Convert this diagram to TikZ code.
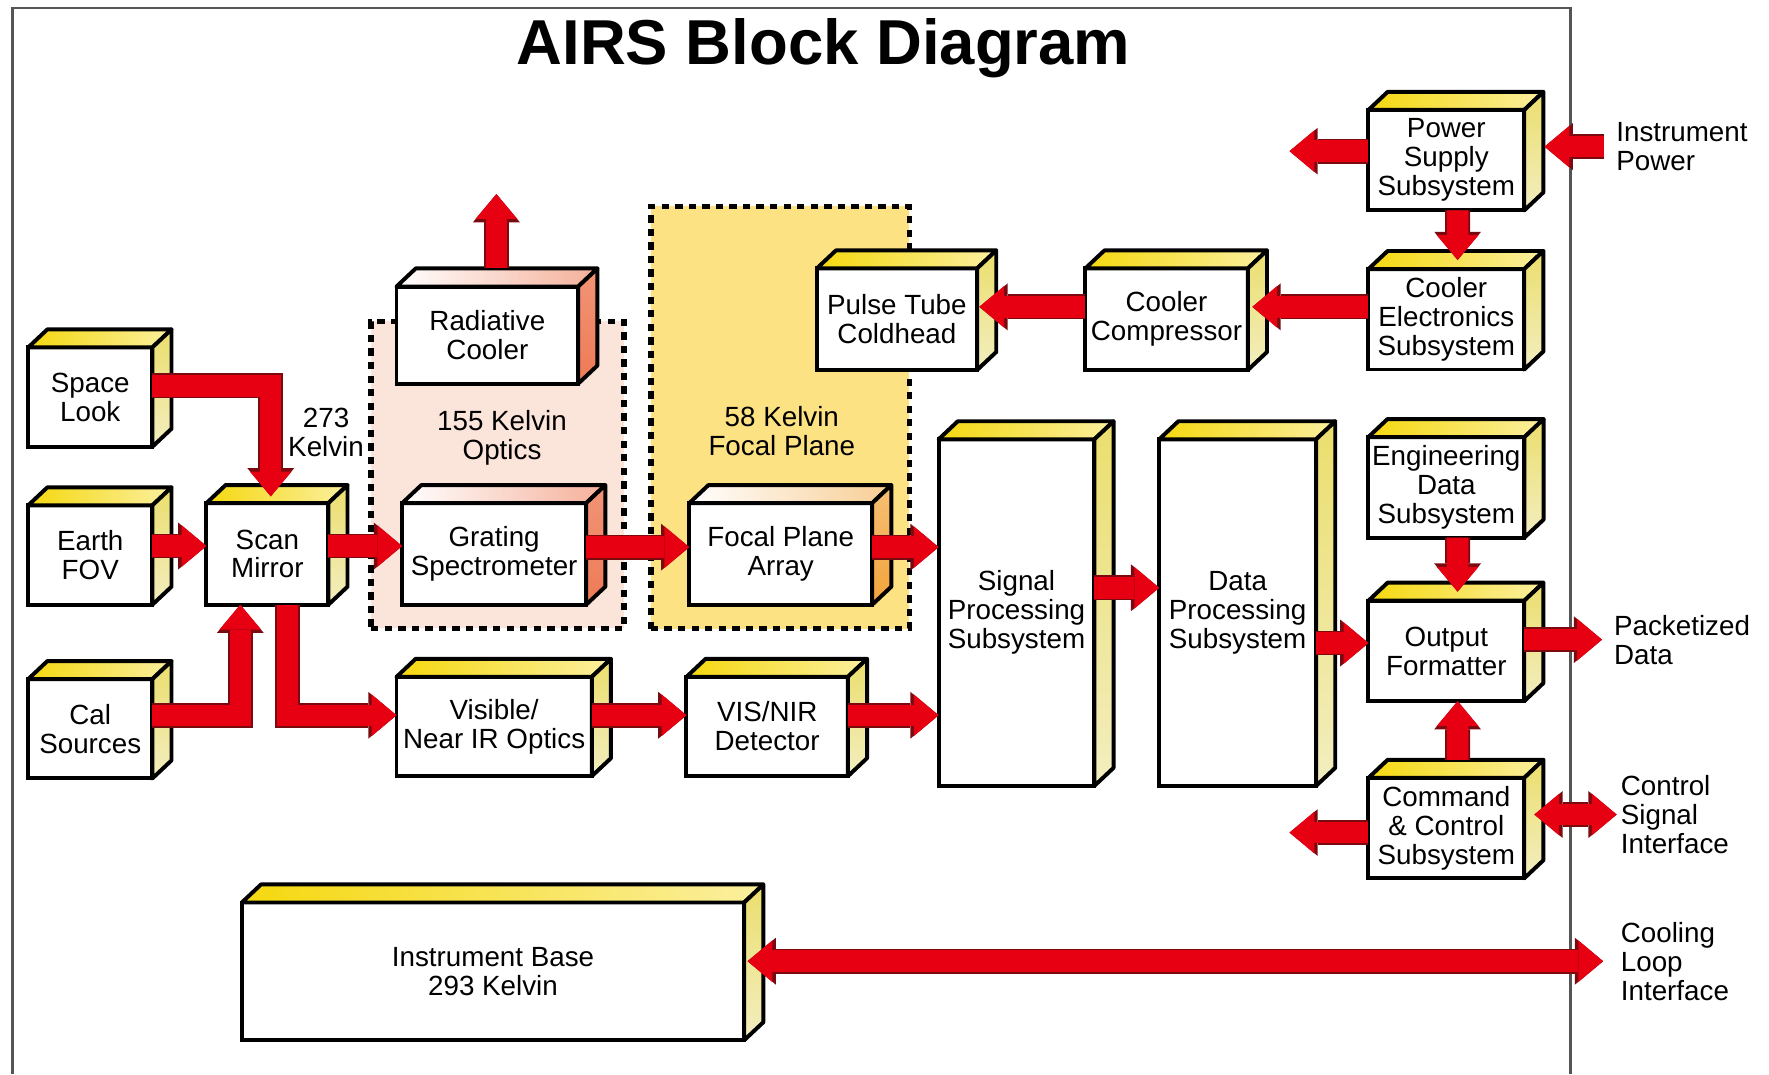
\documentclass[tikz,border=0pt]{standalone}
\usepackage{fontspec}
\setmainfont{Liberation Sans}
\usetikzlibrary{arrows.meta,calc,positioning}
\definecolor{airsred}{HTML}{E60012}
\definecolor{airsdark}{HTML}{7A0A10}
\definecolor{airstop}{HTML}{F5D80F}
\definecolor{airsside}{HTML}{E8E08C}
\definecolor{airsorange}{HTML}{EE7A55}
\definecolor{airsgold}{HTML}{F2A43A}
\definecolor{airspink}{HTML}{FBE4DA}
\definecolor{airszone}{HTML}{FDE283}
\definecolor{airsframe}{HTML}{555555}

\begin{document}
\begin{tikzpicture}[
    x=0.01cm, y=-0.01cm,
    % Estilos
    blk/.style={draw, fill=white, line width=0.035cm, inner sep=1pt, outer sep=0pt, align=center, font=\fontsize{7pt}{7.3pt}\selectfont},
    blkstd/.style={blk, minimum width=1.38cm, minimum height=0.89cm},
    zone/.style={line width=0.05cm, dash pattern=on 0.065cm off 0.055cm, outer sep=0pt, inner sep=0pt},
    topface/.style={draw, line width=0.035cm, line join=round, left color=airstop, right color=airstop!40!white},
    sideface/.style={draw, line width=0.035cm, line join=round, top color=airsside!75!airstop, bottom color=airsside!55!white},
    toporange/.style={draw, line width=0.035cm, line join=round, left color=white, right color=airsorange!60!white},
    sideorange/.style={draw, line width=0.035cm, line join=round, top color=airsorange!80!white, bottom color=airsorange},
    topgold/.style={draw, line width=0.035cm, line join=round, left color=white, right color=airsgold!55!white},
    sidegold/.style={draw, line width=0.035cm, line join=round, top color=airsgold!70!white, bottom color=airsgold},
    flow/.style={draw=airsred, line width=0.19cm, -{Triangle[length=0.22cm, width=0.37cm, line width=0pt]},
        preaction={draw=airsdark, line width=0.22cm, -{Triangle[length=0.25cm, width=0.415cm, line width=0pt]}}},
    flowboth/.style={draw=airsred, line width=0.19cm, {Triangle[length=0.22cm, width=0.37cm, line width=0pt]}-{Triangle[length=0.22cm, width=0.37cm, line width=0pt]},
        preaction={draw=airsdark, line width=0.22cm, {Triangle[length=0.25cm, width=0.415cm, line width=0pt]}-{Triangle[length=0.25cm, width=0.415cm, line width=0pt]}}},
    lbl/.style={font=\fontsize{7pt}{7.3pt}\selectfont, inner sep=0pt, align=center},
    outlbl/.style={lbl, align=left, anchor=west}
]
\useasboundingbox (0,0) rectangle (1568,952);

% --- MARCO Y TITULO ---
\draw[airsframe, line width=0.02cm] (11,952) -- (11,7) -- (1392,7) -- (1392,952);
\node[font=\fontsize{16pt}{18pt}\selectfont\bfseries] (title) at (730,43) {AIRS Block Diagram};

% --- ZONAS TERMICAS ---
\node[zone, draw, fill=airspink, minimum width=2.24cm, minimum height=2.72cm] (opticszone) at (441,421) {};
\node[zone, draw, fill=airszone, minimum width=2.29cm, minimum height=3.74cm] (fpzone) at (691.5,370) {};

% --- BLOQUES ---
\node[blk, minimum width=1.10cm, minimum height=0.88cm] (space) at (80,352) {Space\\Look};
\node[blk, minimum width=1.10cm, minimum height=0.88cm] (earth) at (80,492) {Earth\\FOV};
\node[blk, minimum width=1.10cm, minimum height=0.88cm] (cal)   at (80,646) {Cal\\Sources};
\node[blk, minimum width=1.08cm, minimum height=0.90cm] (scan)  at (237,491) {Scan\\Mirror};

\node[blk, minimum width=1.61cm, minimum height=0.86cm] (rc)      at (432,297) {Radiative\\Cooler};
\node[blk, minimum width=1.63cm, minimum height=0.90cm] (grating) at (438,491) {Grating\\Spectrometer};
\node[blk, minimum width=1.62cm, minimum height=0.90cm] (fpa)     at (692,491) {Focal Plane\\Array};
\node[blk, minimum width=1.73cm, minimum height=0.88cm] (vnir)    at (438,644) {Visible/\\Near IR Optics};
\node[blk, minimum width=1.43cm, minimum height=0.88cm] (det)     at (680,644) {VIS/NIR\\Detector};

\node[blk, minimum width=1.42cm, minimum height=0.90cm] (pulse) at (795,283) {Pulse Tube\\Coldhead};
\node[blk, minimum width=1.44cm, minimum height=0.90cm] (comp)  at (1034,283) {Cooler\\Compressor};

\node[blk, minimum width=1.38cm, minimum height=3.07cm] (sps) at (901,543) {Signal\\Processing\\Subsystem};
\node[blk, minimum width=1.39cm, minimum height=3.07cm] (dps) at (1097,543) {Data\\Processing\\Subsystem};

\node[blkstd] (pss) at (1282,142) {Power\\Supply\\Subsystem};
\node[blkstd] (ces) at (1282,283) {Cooler\\Electronics\\Subsystem};
\node[blkstd] (eds) at (1282,432) {Engineering\\Data\\Subsystem};
\node[blkstd] (of)  at (1282,577) {Output\\Formatter};
\node[blkstd] (ccs) at (1282,734) {Command\\\& Control\\Subsystem};

\node[blk, minimum width=4.45cm, minimum height=1.22cm] (base) at (437,861) {Instrument Base\\293 Kelvin};

% --- CARAS 3D ---
\foreach \n in {space,earth,cal,scan,vnir,det,pulse,comp,sps,dps,pss,ces,eds,of,ccs,base}{
  \draw[topface] (\n.north west) -- ([shift={(17,-16)}]\n.north west) -- ([shift={(17,-16)}]\n.north east) -- (\n.north east) -- cycle;
  \draw[sideface] (\n.north east) -- ([shift={(17,-16)}]\n.north east) -- ([shift={(17,-16)}]\n.south east) -- (\n.south east) -- cycle;
}
\foreach \n in {rc,grating}{
  \draw[toporange] (\n.north west) -- ([shift={(17,-16)}]\n.north west) -- ([shift={(17,-16)}]\n.north east) -- (\n.north east) -- cycle;
  \draw[sideorange] (\n.north east) -- ([shift={(17,-16)}]\n.north east) -- ([shift={(17,-16)}]\n.south east) -- (\n.south east) -- cycle;
}
\foreach \n in {fpa}{
  \draw[topgold] (\n.north west) -- ([shift={(17,-16)}]\n.north west) -- ([shift={(17,-16)}]\n.north east) -- (\n.north east) -- cycle;
  \draw[sidegold] (\n.north east) -- ([shift={(17,-16)}]\n.north east) -- ([shift={(17,-16)}]\n.south east) -- (\n.south east) -- cycle;
}

% --- EXTREMOS LIBRES ---
\coordinate (rcout)   at (440,172);
\coordinate (pssout)  at (1143,134);
\coordinate (ccsout)  at (1143,738);
\coordinate (pwrin)   at (1422,130);
\coordinate (pktout)  at (1420,567);
\coordinate (ctlout)  at (1433,722);
\coordinate (coolout) at (1421,852);

% --- FLECHAS ---
\draw[flow] (space.east |- 0,342) -| ([shift={(3,-6)}]scan.north);
\draw[flow] (earth.east |- 0,484) -- (scan.west |- 0,484);
\draw[flow] (cal.east |- 0,634) -| ([xshift=-0.24cm]scan.south);
\draw[flow] (scan.east |- 0,484) -- (grating.west |- 0,484);
\draw[flow] ([xshift=0.18cm]scan.south) |- (vnir.west |- 0,634);
\draw[flow] ([shift={(8,-16)}]rc.north) -- (rcout);
\draw[flow] (grating.east |- 0,485) -- (fpa.west |- 0,485);
\draw[flow] (fpa.east |- 0,485) -- (sps.west |- 0,485);
\draw[flow] (vnir.east |- 0,634) -- (det.west |- 0,634);
\draw[flow] (det.east |- 0,634) -- (sps.west |- 0,634);
\draw[flow] (sps.east |- 0,521) -- (dps.west |- 0,521);
\draw[flow] (dps.east |- 0,570) -- (of.west |- 0,570);
\draw[flow] ([xshift=0.1cm]eds.south) -- ([shift={(10,-8)}]of.north);
\draw[flow] ([shift={(10,-16)}]ccs.north) -- ([xshift=0.1cm]of.south);
\draw[flow] (of.east |- 0,567) -- (pktout);
\draw[flowboth] ($(ccs.east |- 0,722)+(9,0)$) -- (ctlout);
\draw[flow] (ccs.west |- 0,738) -- (ccsout);
\draw[flow] (pss.west |- 0,134) -- (pssout);
\draw[flow] (pwrin) -- ($(pss.east |- 0,130)+(18,0)$);
\draw[flow] ([xshift=0.1cm]pss.south) -- ([shift={(10,-8)}]ces.north);
\draw[flow] (ces.west |- 0,272) -- ($(comp.east |- 0,272)+(4,0)$);
\draw[flow] (comp.west |- 0,272) -- ($(pulse.east |- 0,272)+(2,0)$);
\draw[flowboth] ($(base.east |- 0,852)+(3,0)$) -- (coolout);

% --- ETIQUETAS ---
\node[lbl] (mirrortemp) at (289,383) {273\\Kelvin};
\node[lbl] (opticstemp) at (445,388) {155 Kelvin\\Optics};
\node[lbl] (fptemp)     at (693,382) {58 Kelvin\\Focal Plane};
\node[outlbl, right=0.1cm of pwrin]    (pwrlbl)  {Instrument\\Power};
\node[outlbl, right=0.1cm of pktout]   (pktlbl)  {Packetized\\Data};
\node[outlbl, right=0.03cm of ctlout]  (ctllbl)  {Control\\Signal\\Interface};
\node[outlbl, right=0.15cm of coolout] (coollbl) {Cooling\\Loop\\Interface};

\end{tikzpicture}
\end{document}
